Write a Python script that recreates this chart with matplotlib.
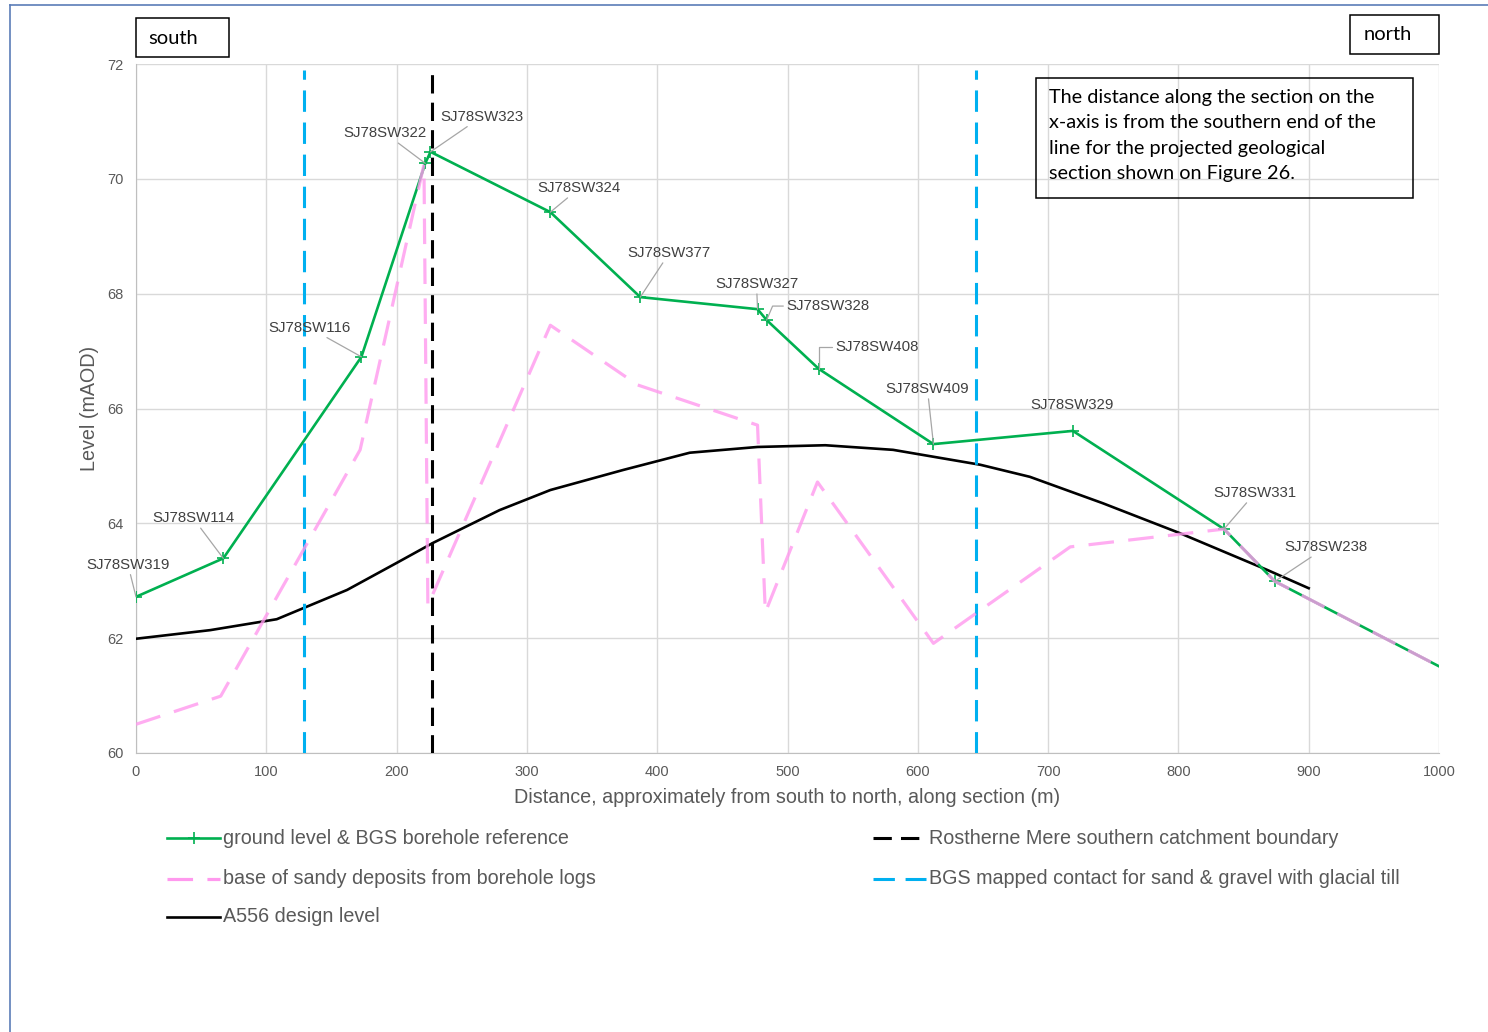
import numpy as np
import matplotlib
matplotlib.use('Agg')
import matplotlib.pyplot as plt
from matplotlib.patches import Rectangle
from matplotlib.lines import Line2D

ground_x = [0, 67, 173, 222, 226, 318, 387, 477, 484, 524, 612, 719, 835, 874, 1000]
ground_y = [62.72, 63.39, 66.90, 70.27, 70.47, 69.42, 67.94, 67.73, 67.54, 66.69, 65.38, 65.61, 63.90, 62.99, 61.51]
boreholes = ['SJ78SW319', 'SJ78SW114', 'SJ78SW116', 'SJ78SW322', 'SJ78SW323', 'SJ78SW324', 'SJ78SW377',
             'SJ78SW327', 'SJ78SW328', 'SJ78SW408', 'SJ78SW409', 'SJ78SW329', 'SJ78SW331', 'SJ78SW238']

sand_x = [0, 65, 172, 221, 224, 318, 385, 477, 483, 523, 612, 717, 835, 874, 1000]
sand_y = [60.50, 60.99, 65.28, 70.25, 62.57, 67.45, 66.41, 65.71, 62.45, 64.72, 61.91, 63.59, 63.90, 62.99, 61.51]

design_x = [0, 57, 108, 162, 200, 228, 279, 318, 374, 425, 477, 529, 581, 648, 686, 742, 801, 868, 900]
design_y = [61.99, 62.14, 62.33, 62.84, 63.31, 63.66, 64.23, 64.58, 64.93, 65.23, 65.33, 65.36, 65.28,
            65.02, 64.81, 64.35, 63.83, 63.19, 62.87]

catchment_x = [227]
contact_x = [129, 645]
vline_top = 71.9

# label offsets in pixels (layout only)
label_off = [(-8, 32), (-30, 40), (-52, 29), (-40, 30), (51, 35), (29, 24), (29, 44),
             (-1, 25), (61, 14), (58, 22), (-6, 55), (-1, 26), (31, 36), (51, 34)]

GREEN = '#00B050'
PINK = '#FF99EE'
BLUE = '#00B0F0'
GREY_TXT = '#595959'

W, H = 1488, 1032
plt.rcParams['font.family'] = ['Liberation Sans', 'DejaVu Sans']
fig = plt.figure(figsize=(W / 100, H / 100), dpi=100)

def fx(px): return px / W
def fy(py): return 1 - py / H

ax = fig.add_axes([fx(136), fy(753), fx(1439) - fx(136), fy(64) - fy(753)])
ax.set_xlim(0, 1000); ax.set_ylim(60, 72)
ax.set_xticks(range(0, 1001, 100)); ax.set_yticks(range(60, 73, 2))
ax.grid(color='#D9D9D9', lw=1.0)
ax.set_axisbelow(True)
for s in ['top', 'right']: ax.spines[s].set_visible(False)
for s in ['left', 'bottom']: ax.spines[s].set_color('#BFBFBF')
ax.tick_params(length=0, labelsize=10.5, labelcolor=GREY_TXT, pad=9)
ax.set_xlabel('Distance, approximately from south to north, along section (m)', fontsize=14.2, color=GREY_TXT, labelpad=6)
ax.set_ylabel('Level (mAOD)', fontsize=14.2, color=GREY_TXT, labelpad=6)

ax.plot(design_x, design_y, color='black', lw=1.9, zorder=3)
ax.vlines(catchment_x, 60, vline_top, colors='black', lw=2.2, linestyles=(0, (6, 3)), zorder=3)
ax.vlines(contact_x, 60, vline_top, colors=BLUE, lw=2.2, linestyles=(0, (7, 3.5)), zorder=3)
ax.plot(ground_x, ground_y, color=GREEN, lw=1.9, marker='+', ms=9, mew=1.2,
        markevery=list(range(len(boreholes))), zorder=4)
ax.plot(sand_x, sand_y, color=PINK, lw=2.3, alpha=0.8, dashes=(8, 4.5), zorder=5)

for i, name in enumerate(boreholes):
    dx, dy = label_off[i]
    arrow = dict(arrowstyle='-', color='#A6A6A6', lw=0.9, shrinkA=0, shrinkB=0)
    if name == 'SJ78SW328':
        arrow.update(relpos=(0, 0.5), connectionstyle='angle,angleA=0,angleB=67,rad=0')
    elif name == 'SJ78SW408':
        arrow.update(relpos=(0, 0.5), connectionstyle='angle,angleA=0,angleB=90,rad=0')
    if name == 'SJ78SW329':
        arrow = None
    ax.annotate(name, (ground_x[i], ground_y[i]), xytext=(dx, dy), textcoords='offset pixels',
                ha='center', va='center', fontsize=10.8, color='#404040', arrowprops=arrow, zorder=6)

# ---- outer frame ----
fig.add_artist(Line2D([fx(10), 1], [fy(5), fy(5)], transform=fig.transFigure, color='#5B7DB8', lw=1.2))
fig.add_artist(Line2D([fx(10), fx(10)], [fy(5), 0], transform=fig.transFigure, color='#5B7DB8', lw=1.2))

# ---- boxes ----
def box(x0, y0, x1, y1):
    fig.add_artist(Rectangle((fx(x0), fy(y1)), fx(x1) - fx(x0), fy(y0) - fy(y1), transform=fig.transFigure,
                             fill=False, ec='black', lw=1.1))

box(136, 18, 229, 57)
fig.text(fx(148), fy(38), 'south', family='Lato', fontsize=14.5, va='center', ha='left', color='black')
box(1350, 15, 1439, 54)
fig.text(fx(1364), fy(35), 'north', family='Lato', fontsize=14.5, va='center', ha='left', color='black')
box(1036, 78, 1413, 198)
note = ['The distance along the section on the', 'x-axis is from the southern end of the',
        'line for the projected geological', 'section shown on Figure 26.']
for k, line in enumerate(note):
    fig.text(fx(1049), fy(97 + 25.6 * k), line, family='Lato', fontsize=14.3, va='center', ha='left', color='black')

# ---- legend (drawn by hand to match layout) ----
legend_items = [
    (167, 838, 'ground level & BGS borehole reference', dict(color=GREEN, lw=1.9)),
    (167, 879, 'base of sandy deposits from borehole logs', dict(color=PINK, lw=2.3, dashes=(8, 4.5))),
    (167, 917, 'A556 design level', dict(color='black', lw=1.9)),
    (873, 838, 'Rostherne Mere southern catchment boundary', dict(color='black', lw=2.2, dashes=(6, 3))),
    (873, 879, 'BGS mapped contact for sand & gravel with glacial till', dict(color=BLUE, lw=2.2, dashes=(7, 3.5))),
]
for x0, y0, lab, st in legend_items:
    fig.add_artist(Line2D([fx(x0), fx(x0 + 53)], [fy(y0), fy(y0)], transform=fig.transFigure, **st))
    fig.text(fx(x0 + 56), fy(y0), lab, fontsize=14.2, color=GREY_TXT, va='center', ha='left')
fig.add_artist(Line2D([fx(193.5)], [fy(838)], transform=fig.transFigure, color=GREEN, marker='+', ms=9, mew=1.2, lw=0))

fig.savefig('out.png', dpi=100)
